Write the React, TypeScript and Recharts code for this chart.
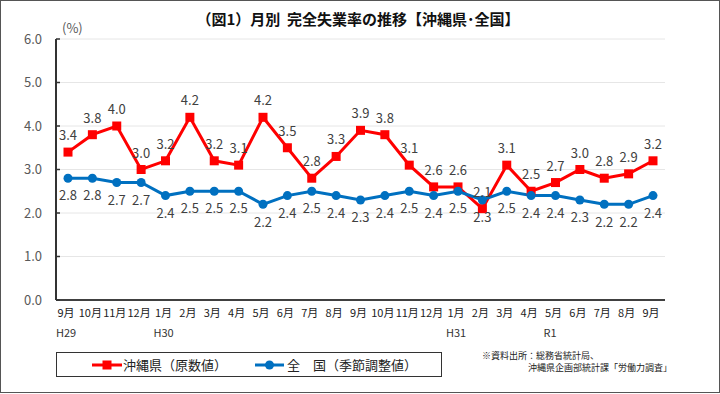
import React from 'react';
import { LineChart, Line, XAxis, YAxis, CartesianGrid, LabelList } from 'recharts';

const months = ['9月','10月','11月','12月','1月','2月','3月','4月','5月','6月','7月','8月','9月','10月','11月','12月','1月','2月','3月','4月','5月','6月','7月','8月','9月'];
const yearLabels = ['H29','','','','H30','','','','','','','','','','','','H31','','','','R1','','','',''];
const okinawa = [3.4,3.8,4.0,3.0,3.2,4.2,3.2,3.1,4.2,3.5,2.8,3.3,3.9,3.8,3.1,2.6,2.6,2.1,3.1,2.5,2.7,3.0,2.8,2.9,3.2];
const national = [2.8,2.8,2.7,2.7,2.4,2.5,2.5,2.5,2.2,2.4,2.5,2.4,2.3,2.4,2.5,2.4,2.5,2.3,2.5,2.4,2.4,2.3,2.2,2.2,2.4];
const yTicks = [0,1,2,3,4,5,6];

const data = months.map((m, i) => ({ idx: i, month: m, year: yearLabels[i], okinawa: okinawa[i], national: national[i] }));

const FONT = '"Noto Sans CJK JP", "Noto Sans", sans-serif';

const XTick = (props: any) => {
  const { x, y, payload } = props;
  const i = payload.value as number;
  return (
    <g>
      <text x={x - 2} y={y + 17} textAnchor="middle" fontSize={11} fill="#222" fontFamily={FONT}>{months[i]}</text>
      {yearLabels[i] ? (
        <text x={x - 12} y={y + 37} textAnchor="start" fontSize={11} fill="#333" fontFamily={FONT}>{yearLabels[i]}</text>
      ) : null}
    </g>
  );
};

const YTick = (props: any) => {
  const { x, y, payload } = props;
  return (
    <g>
      <line x1={x} x2={x + 4} y1={y} y2={y} stroke="#333" strokeWidth={1.5} />
      <text x={x - 14} y={y + 4.5} textAnchor="end" fontSize={13} fill="#595959" fontFamily={FONT}>{Number(payload.value).toFixed(1)}</text>
    </g>
  );
};

const SquareDot = (props: any) => {
  const { cx, cy } = props;
  if (cx == null || cy == null) return null;
  return <rect x={cx - 4.5} y={cy - 4.5} width={9} height={9} fill="#FF0000" />;
};

const RoundDot = (props: any) => {
  const { cx, cy } = props;
  if (cx == null || cy == null) return null;
  return <circle cx={cx} cy={cy} r={4.5} fill="#0070C0" />;
};

const fmt = (v: any) => Number(v).toFixed(1);

export default function App() {
  return (
    <div style={{ position: 'absolute', left: 0, top: 0, width: 720, height: 394, background: '#fff', fontFamily: FONT }}>
      <div style={{ position: 'absolute', left: 0, top: 0, width: 718, height: 391, border: '1px solid #555' }} />
      <div style={{ position: 'absolute', left: 0, top: 9, width: 716, textAlign: 'center', fontSize: 15, fontWeight: 'bold', color: '#111', lineHeight: '20px' }}>
        （図1）月別&nbsp;&nbsp;完全失業率の推移【沖縄県･全国】
      </div>
      <div style={{ position: 'absolute', left: 62, top: 19, fontSize: 13, color: '#595959', lineHeight: '18px' }}>(%)</div>
      <div style={{ position: 'absolute', left: 0, top: 0 }}>
        <LineChart width={720} height={394} data={data} margin={{ top: 39, right: 55, bottom: 54, left: 0 }}>
          <CartesianGrid vertical={false} stroke="#E6E6E6" strokeWidth={1} yAxisId="left" />
          <XAxis
            dataKey="idx"
            type="category"
            height={40}
            tickSize={0}
            tickMargin={0}
            axisLine={{ stroke: '#404040', strokeWidth: 2 }}
            tickLine={false}
            tick={<XTick />}
            interval={0}
            padding={{ left: 12, right: 12 }}
          />
          <XAxis
            xAxisId="top"
            dataKey="idx"
            orientation="top"
            height={0}
            tick={false}
            tickLine={false}
            axisLine={{ stroke: '#404040', strokeWidth: 1.5 }}
          />
          <YAxis
            yAxisId="left"
            domain={[0, 6]}
            ticks={yTicks}
            width={56}
            tickSize={0}
            tickMargin={0}
            tickLine={false}
            axisLine={{ stroke: '#333', strokeWidth: 2 }}
            tick={<YTick />}
          />
          <YAxis
            yAxisId="right"
            orientation="right"
            domain={[0, 6]}
            width={0}
            tick={false}
            tickLine={false}
            axisLine={{ stroke: '#404040', strokeWidth: 1.5 }}
          />
          <Line yAxisId="left" dataKey="okinawa" stroke="#FF0000" strokeWidth={3} dot={<SquareDot />} isAnimationActive={false}>
            <LabelList dataKey="okinawa" position="top" offset={12} formatter={fmt} fill="#404040" fontSize={13} fontFamily={FONT} />
          </Line>
          <Line yAxisId="left" dataKey="national" stroke="#0070C0" strokeWidth={3} dot={<RoundDot />} isAnimationActive={false}>
            <LabelList dataKey="national" position="bottom" offset={13} formatter={fmt} fill="#404040" fontSize={13} fontFamily={FONT} />
          </Line>
        </LineChart>
      </div>
      <div style={{ position: 'absolute', left: 56, top: 352, width: 384, height: 23, border: '1.5px solid #333' }} />
      <svg style={{ position: 'absolute', left: 0, top: 0 }} width={720} height={394}>
        <line x1={92} x2={122} y1={365} y2={365} stroke="#FF0000" strokeWidth={3} />
        <rect x={102.5} y={360.5} width={9} height={9} fill="#FF0000" />
        <line x1={255} x2={284} y1={365} y2={365} stroke="#0070C0" strokeWidth={3} />
        <circle cx={269.5} cy={365} r={4.5} fill="#0070C0" />
      </svg>
      <div style={{ position: 'absolute', left: 123, top: 356, fontSize: 13, color: '#222', lineHeight: '18px', whiteSpace: 'nowrap' }}>沖縄県（原数値）</div>
      <div style={{ position: 'absolute', left: 287, top: 356, fontSize: 13, color: '#222', lineHeight: '18px', whiteSpace: 'nowrap' }}>全　国（季節調整値）</div>
      <div style={{ position: 'absolute', left: 482, top: 350, fontSize: 9, color: '#222', lineHeight: '12px', whiteSpace: 'nowrap' }}>※資料出所：総務省統計局、</div>
      <div style={{ position: 'absolute', left: 528, top: 362, fontSize: 9, color: '#222', lineHeight: '12px', whiteSpace: 'nowrap' }}>沖縄県企画部統計課「労働力調査」</div>
    </div>
  );
}
